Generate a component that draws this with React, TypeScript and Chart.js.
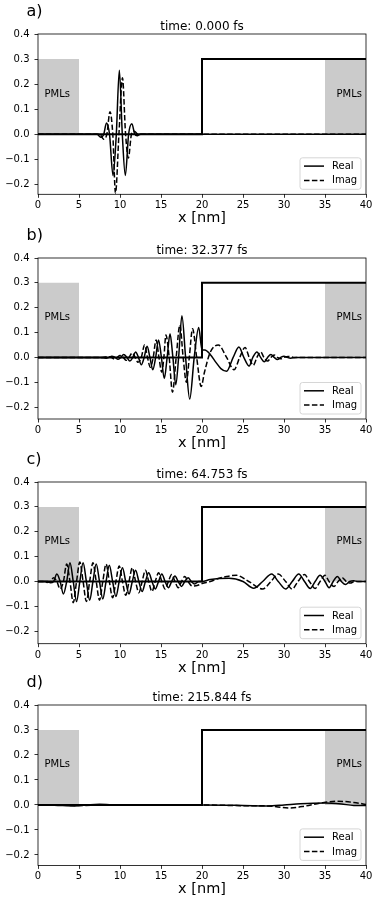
import React, { useEffect, useRef } from "react";
import { Chart, registerables } from "chart.js";
Chart.register(...registerables);

// ---------- data ----------
const X_TICKS = [0, 5, 10, 15, 20, 25, 30, 35, 40];
const Y_TICKS = [-0.2, -0.1, 0, 0.1, 0.2, 0.3, 0.4];
const PANEL_LABELS = ["a)", "b)", "c)", "d)"];
const TITLES = ["time: 0.000 fs", "time: 32.377 fs", "time: 64.753 fs", "time: 215.844 fs"];
const Y_MIN = [-0.24, -0.248, -0.25, -0.242];
const Y_MAX = 0.4;
const X_MIN = 0;
const X_MAX = 40;

const STEP_X = [0, 20, 20, 40];
const STEP_Y = [0, 0, 0.3, 0.3];
const PML_LEFT_X = [0, 5];
const PML_RIGHT_X = [35, 40];
const PML_Y = [0.3, 0.3];
const PML_TEXT = "PMLs";
const PML_TEXT_X = [0.8, 36.4];
const PML_TEXT_Y = 0.15;
const LEGEND_LABELS = ["Real", "Imag"];
const X_LABEL = "x [nm]";

type P = [number, number];

const REAL_A: P[] = [
  [0, 0], [7.2, 0], [7.65, -0.012], [8.02, 0], [8.35, 0.045], [8.72, 0], [9.15, -0.165], [9.55, 0],
  [9.92, 0.255], [10.28, 0], [10.65, -0.165], [11.05, 0], [11.45, 0.042], [11.8, 0], [12.1, -0.006],
  [12.5, 0], [40, 0],
];
const IMAG_A: P[] = [
  [0, 0], [7.5, 0], [8.0, -0.02], [8.4, 0], [8.78, 0.09], [9.12, 0], [9.45, -0.235], [9.87, 0],
  [10.3, 0.225], [10.68, 0], [11.02, -0.095], [11.4, 0], [11.75, 0.012], [12.2, 0], [40, 0],
];

const REAL_B: P[] = [
  [0, 0], [7.6, 0], [8.3, -0.003], [8.65, 0], [9.0, 0.005], [9.4, 0], [9.75, -0.008], [10.1, 0],
  [10.45, 0.012], [10.85, 0], [11.2, -0.015], [11.55, 0], [11.9, 0.022], [12.25, 0], [12.6, -0.03],
  [12.95, 0], [13.3, 0.045], [13.65, 0], [14.0, -0.05], [14.35, 0], [14.7, 0.07], [15.05, 0],
  [15.4, -0.085], [15.75, 0], [16.1, 0.095], [16.45, 0], [16.8, -0.11], [17.15, 0], [17.55, 0.168],
  [18.0, 0], [18.5, -0.168], [19.05, 0], [19.6, 0.12], [20.0, 0.03], [20.35, 0.03], [21.0, 0.012],
  [21.7, -0.02], [22.3, -0.045], [23.0, -0.056], [23.8, 0], [24.5, 0.042], [25.1, 0], [25.75, -0.035],
  [26.2, 0], [26.7, 0.022], [27.15, 0], [27.6, -0.018], [28.0, 0], [28.4, 0.012], [28.8, 0],
  [29.2, -0.009], [29.6, 0], [30.0, 0.005], [30.4, 0], [30.8, -0.003], [31.5, 0], [40, 0],
];
const IMAG_B: P[] = [
  [0, 0], [7.8, 0], [8.6, 0.003], [8.95, 0], [9.3, -0.006], [9.65, 0], [10.0, 0.008], [10.4, 0],
  [10.75, -0.012], [11.1, 0], [11.5, 0.018], [11.85, 0], [12.2, -0.02], [12.6, 0], [13.0, 0.05],
  [13.35, 0], [13.7, -0.04], [14.05, 0], [14.4, 0.07], [14.75, 0], [15.1, -0.06], [15.35, 0],
  [15.6, 0.09], [16.0, 0], [16.4, -0.14], [16.85, 0], [17.3, 0.13], [17.7, 0], [18.1, -0.1],
  [18.45, 0], [18.85, 0.115], [19.35, 0], [19.9, -0.117], [20.3, -0.06], [21.0, 0.02], [22.0, 0.05],
  [23.0, 0], [23.9, -0.05], [24.6, 0], [25.25, 0.04], [25.75, 0], [26.25, -0.032], [26.7, 0],
  [27.15, 0.022], [27.55, 0], [28.0, -0.015], [28.4, 0], [28.8, 0.01], [29.2, 0], [29.6, -0.006],
  [30.0, 0], [30.5, 0.004], [31.2, 0], [40, 0],
];

const REAL_C: P[] = [
  [0, 0], [1.2, 0], [1.5, -0.005], [1.9, 0], [2.3, 0.03], [2.7, 0], [3.1, -0.05], [3.5, 0],
  [3.9, 0.075], [4.3, 0], [4.7, -0.08], [5.1, 0], [5.5, 0.075], [5.9, 0], [6.3, -0.075], [6.7, 0],
  [7.1, 0.07], [7.5, 0], [7.9, -0.07], [8.3, 0], [8.7, 0.065], [9.1, 0], [9.5, -0.06], [9.9, 0],
  [10.3, 0.055], [10.7, 0], [11.1, -0.05], [11.5, 0], [11.9, 0.045], [12.3, 0], [12.7, -0.04],
  [13.1, 0], [13.5, 0.035], [13.9, 0], [14.3, -0.03], [14.7, 0], [15.1, 0.03], [15.5, 0],
  [15.9, -0.025], [16.3, 0], [16.7, 0.022], [17.1, 0], [17.5, -0.02], [17.9, 0], [18.3, 0.015],
  [18.7, 0], [19.1, -0.01], [19.6, 0], [20, 0], [21, 0.008], [23.3, 0.013], [25.0, 0],
  [26.3, -0.027], [27.4, 0], [28.5, 0.03], [29.3, 0], [30.2, -0.03], [31.0, 0], [31.8, 0.03],
  [32.5, 0], [33.2, -0.028], [33.8, 0], [34.4, 0.025], [35.0, 0], [35.5, -0.025], [36.0, 0],
  [36.5, 0.02], [37.0, 0], [37.5, -0.012], [38.0, 0], [38.5, 0.003], [39.0, 0], [40, 0],
];
const IMAG_C: P[] = [
  [0, 0], [0.9, 0], [1.1, -0.004], [1.5, 0], [1.9, 0.015], [2.3, 0], [2.7, -0.03], [3.1, 0],
  [3.5, 0.07], [3.9, 0], [4.3, -0.085], [4.7, 0], [5.1, 0.078], [5.5, 0], [5.9, -0.08], [6.3, 0],
  [6.7, 0.075], [7.1, 0], [7.5, -0.075], [7.9, 0], [8.3, 0.07], [8.7, 0], [9.1, -0.065], [9.5, 0],
  [9.9, 0.062], [10.3, 0], [10.7, -0.055], [11.1, 0], [11.5, 0.055], [11.9, 0], [12.3, -0.045],
  [12.7, 0], [13.1, 0.045], [13.5, 0], [13.9, -0.04], [14.3, 0], [14.7, 0.035], [15.1, 0],
  [15.5, -0.03], [15.9, 0], [16.3, 0.028], [16.7, 0], [17.1, -0.025], [17.5, 0], [17.9, 0.02],
  [18.3, 0], [18.8, -0.018], [19.5, -0.015], [20, -0.008], [21, 0], [22, 0.012], [23, 0.02],
  [24.2, 0.025], [25.7, 0], [27.4, -0.03], [28.4, 0], [29.3, 0.03], [30.2, 0], [31.0, -0.03],
  [31.7, 0], [32.5, 0.028], [33.1, 0], [33.8, -0.028], [34.4, 0], [35.0, 0.025], [35.5, 0],
  [36.1, -0.02], [36.6, 0], [37.1, 0.015], [37.6, 0], [38.1, -0.006], [38.6, 0], [40, 0],
];

const REAL_D: P[] = [
  [0, 0], [2, -0.001], [4.5, -0.004], [6, 0], [7.5, 0.003], [9, 0], [12, -0.001], [20, 0],
  [25, -0.002], [28, -0.004], [30, 0], [32, 0.005], [35, 0.008], [37, 0.004], [38.5, -0.002],
  [40, -0.002],
];
const IMAG_D: P[] = [
  [0, 0], [5, -0.002], [10, 0], [20, 0], [25, -0.003], [28, -0.004], [30.7, -0.012], [32.5, -0.005],
  [34.5, 0.008], [36.4, 0.015], [38.5, 0.01], [40, 0.002],
];

const REALS = [REAL_A, REAL_B, REAL_C, REAL_D];
const IMAGS = [IMAG_A, IMAG_B, IMAG_C, IMAG_D];

// ---------- layout ----------
const W = 382;
const CANVAS_TOP = [0, 224, 448, 671];
const CANVAS_H = [240, 240, 240, 236];
const PLOT_TOP = 34;
const PLOT_H = [160.3, 161, 161.7, 160.4];
const PLOT_LEFT = 38;
const PLOT_RIGHT_PAD = 16;
const FONT = "'DejaVu Sans', sans-serif";
const GRAY = "#cbcbcb";
const DASH = [5.5, 2.4];

const fmtY = (v: number) => (Math.abs(v) < 1e-9 ? "0.0" : v.toFixed(1).replace("-", "\u2212"));
const toXY = (pts: P[]) => pts.map(([x, y]) => ({ x, y }));
const zip = (xs: number[], ys: number[]) => xs.map((x, i) => ({ x, y: ys[i] }));

function makeConfig(idx: number): any {
  const decor = {
    id: "decor" + idx,
    afterDatasetsDraw(chart: any) {
      const { ctx, chartArea: a, scales } = chart;
      const xs = scales.x, ys = scales.y;
      ctx.save();
      // PML labels
      ctx.fillStyle = "#000";
      ctx.font = `10px ${FONT}`;
      ctx.textAlign = "left";
      ctx.textBaseline = "alphabetic";
      PML_TEXT_X.forEach((tx) => ctx.fillText(PML_TEXT, xs.getPixelForValue(tx), ys.getPixelForValue(PML_TEXT_Y)));
      // spines
      ctx.strokeStyle = "#000";
      ctx.lineWidth = 0.8;
      ctx.strokeRect(a.left, a.top, a.right - a.left, a.bottom - a.top);
      // legend
      const lw = 61, lh = 31.5;
      const bx = a.right - 5 - lw, by = a.bottom - 5 - lh;
      ctx.beginPath();
      ctx.roundRect(bx, by, lw, lh, 2.5);
      ctx.fillStyle = "rgba(255,255,255,0.8)";
      ctx.fill();
      ctx.strokeStyle = "#cccccc";
      ctx.lineWidth = 0.8;
      ctx.stroke();
      const rows = [by + 8.3, by + 22.6];
      rows.forEach((ry, i) => {
        ctx.beginPath();
        ctx.strokeStyle = "#000";
        ctx.lineWidth = 1.5;
        ctx.setLineDash(i === 1 ? DASH : []);
        ctx.moveTo(bx + 4, ry);
        ctx.lineTo(bx + 24, ry);
        ctx.stroke();
        ctx.setLineDash([]);
        ctx.fillStyle = "#000";
        ctx.font = `10px ${FONT}`;
        ctx.textBaseline = "middle";
        ctx.fillText(LEGEND_LABELS[i], bx + 32, ry + 0.5);
      });
      ctx.restore();
    },
    afterDraw(chart: any) {
      const { ctx, chartArea: a } = chart;
      ctx.save();
      ctx.fillStyle = "#000";
      ctx.textBaseline = "alphabetic";
      ctx.font = `12px ${FONT}`;
      ctx.textAlign = "center";
      ctx.fillText(TITLES[idx], (a.left + a.right) / 2, a.top - 4);
      ctx.font = `14.5px ${FONT}`;
      ctx.fillText(X_LABEL, (a.left + a.right) / 2, a.bottom + 28);
      ctx.font = `16px ${FONT}`;
      ctx.textAlign = "left";
      ctx.fillText(PANEL_LABELS[idx], 26.5, a.top - 18.5);
      ctx.restore();
    },
  };

  const line = { pointRadius: 0, fill: false, borderColor: "#000" };
  return {
    type: "line",
    data: {
      datasets: [
        { ...line, label: LEGEND_LABELS[0], data: toXY(REALS[idx]), borderWidth: 1.5, cubicInterpolationMode: "monotone", order: 2 },
        { ...line, label: LEGEND_LABELS[1], data: toXY(IMAGS[idx]), borderWidth: 1.5, borderDash: DASH, cubicInterpolationMode: "monotone", order: 1 },
        { ...line, label: "step", data: zip(STEP_X, STEP_Y), borderWidth: 2, tension: 0, order: 3 },
        { label: "pml1", data: zip(PML_LEFT_X, PML_Y), pointRadius: 0, borderColor: "rgba(0,0,0,0)", borderWidth: 0, backgroundColor: GRAY, fill: "origin", tension: 0, order: 10 },
        { label: "pml2", data: zip(PML_RIGHT_X, PML_Y), pointRadius: 0, borderColor: "rgba(0,0,0,0)", borderWidth: 0, backgroundColor: GRAY, fill: "origin", tension: 0, order: 10 },
      ],
    },
    options: {
      responsive: false,
      animation: false,
      devicePixelRatio: 1,
      layout: { padding: { top: PLOT_TOP, left: 0, right: PLOT_RIGHT_PAD, bottom: 0 } },
      plugins: { legend: { display: false }, title: { display: false }, tooltip: { enabled: false } },
      events: [],
      scales: {
        x: {
          type: "linear",
          min: X_MIN,
          max: X_MAX,
          afterBuildTicks: (s: any) => { s.ticks = X_TICKS.map((v) => ({ value: v })); },
          afterFit: (s: any) => { s.height = CANVAS_H[idx] - PLOT_TOP - PLOT_H[idx]; },
          ticks: { autoSkip: false, maxRotation: 0, padding: 2, color: "#000", font: { family: FONT, size: 10 }, callback: (v: number) => String(v) },
          grid: { drawOnChartArea: false, drawTicks: true, tickLength: 3.5, color: "#000", lineWidth: 0.8 },
          border: { display: false },
        },
        y: {
          type: "linear",
          min: Y_MIN[idx],
          max: Y_MAX,
          afterBuildTicks: (s: any) => { s.ticks = Y_TICKS.map((v) => ({ value: v })); },
          afterFit: (s: any) => { s.width = PLOT_LEFT; },
          ticks: { autoSkip: false, padding: 5, color: "#000", font: { family: FONT, size: 10 }, callback: (v: number) => fmtY(v) },
          grid: { drawOnChartArea: false, drawTicks: true, tickLength: 3.5, color: "#000", lineWidth: 0.8 },
          border: { display: false },
        },
      },
    },
    plugins: [decor],
  };
}

function Panel({ idx }: { idx: number }) {
  const ref = useRef<HTMLCanvasElement>(null);
  useEffect(() => {
    const chart = new Chart(ref.current as HTMLCanvasElement, makeConfig(idx));
    return () => chart.destroy();
  }, [idx]);
  return (
    <canvas
      ref={ref}
      width={W}
      height={CANVAS_H[idx]}
      style={{ position: "absolute", left: 0, top: CANVAS_TOP[idx], width: W, height: CANVAS_H[idx] }}
    />
  );
}

export default function App() {
  return (
    <div style={{ position: "absolute", left: 0, top: 0, width: W, height: 907, background: "#fff" }}>
      {[0, 1, 2, 3].map((i) => (
        <Panel key={i} idx={i} />
      ))}
    </div>
  );
}
